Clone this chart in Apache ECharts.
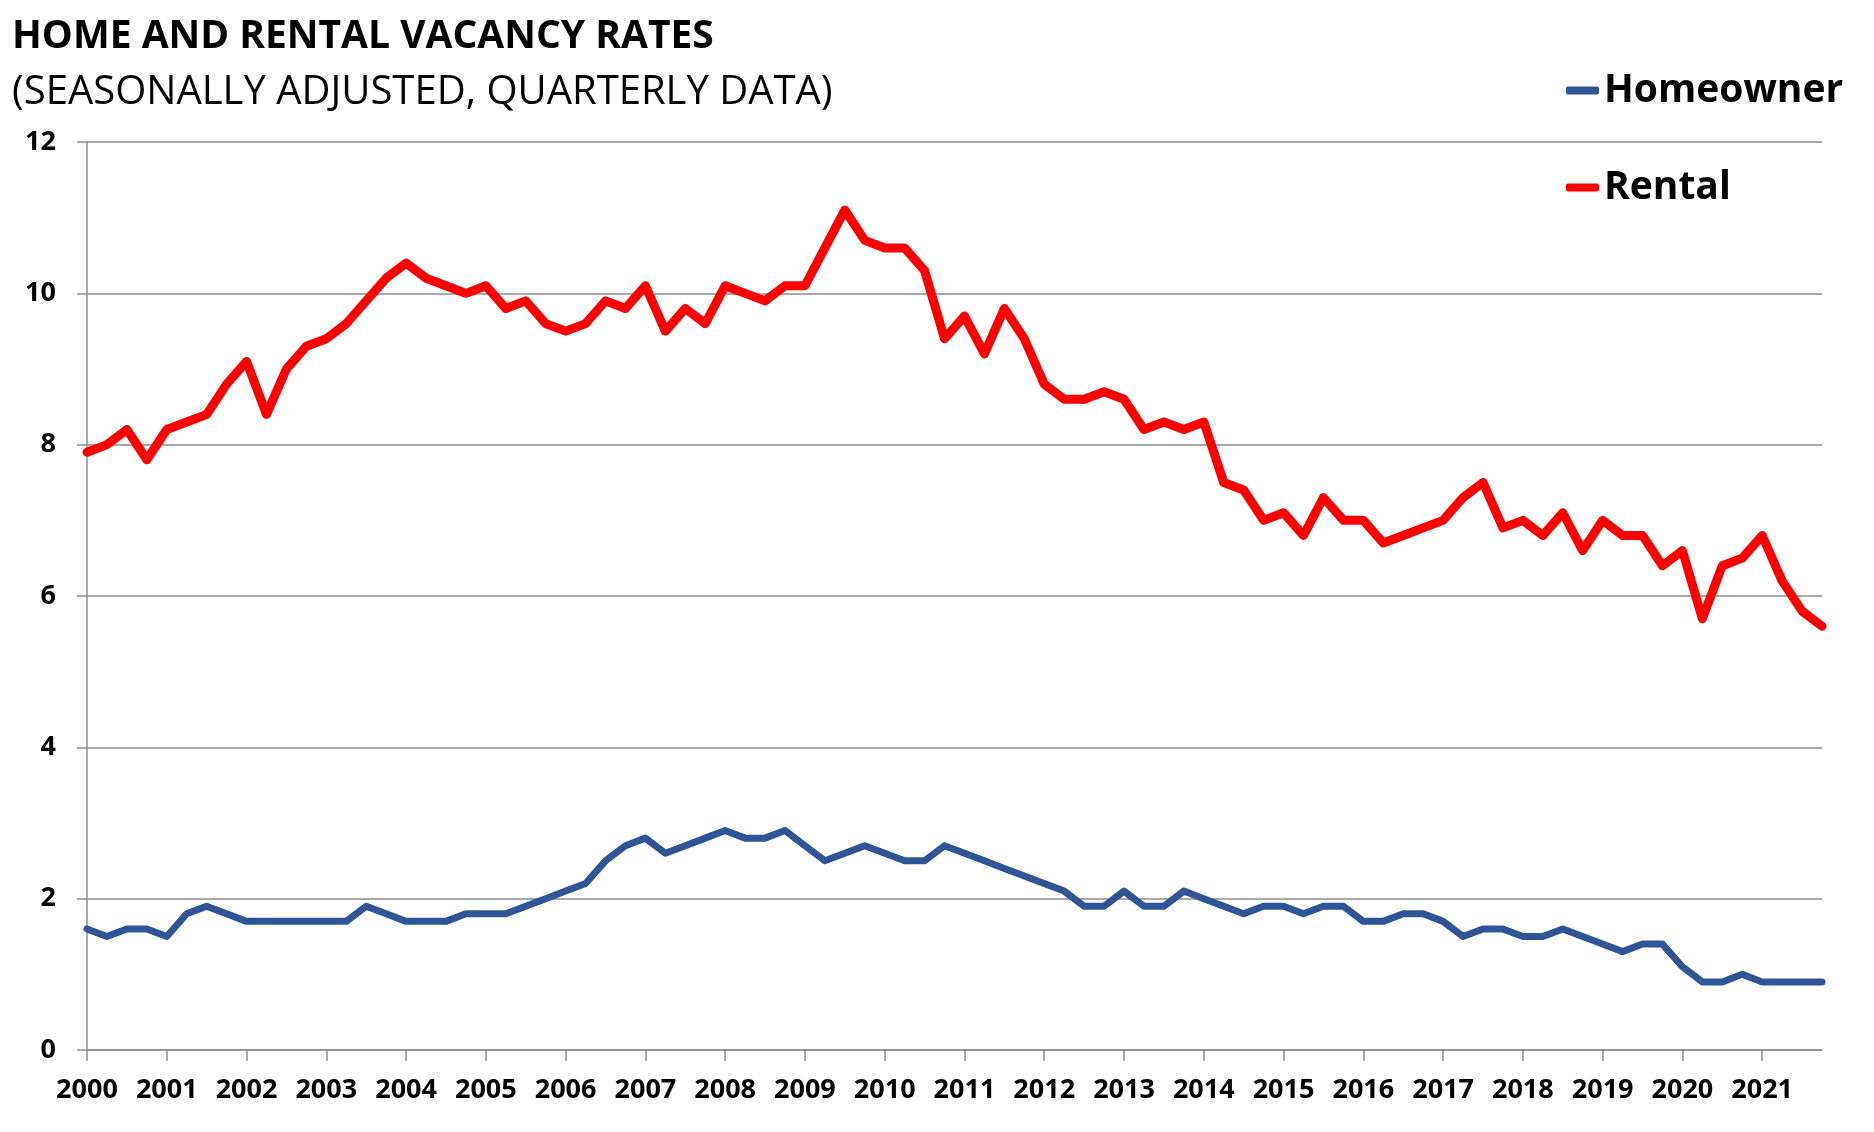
<!DOCTYPE html>
<html>
<head>
<meta charset="utf-8">
<script src="https://cdn.jsdelivr.net/npm/echarts@6/dist/echarts.min.js"></script>
<style>
html,body{margin:0;padding:0;background:#fff;}
#chart{width:1874px;height:1132px;}
</style>
</head>
<body>
<div id="chart"></div>
<script>
const titleText = 'HOME AND RENTAL VACANCY RATES';
const subtitleText = '(SEASONALLY ADJUSTED, QUARTERLY DATA)';
const years = [2000,2001,2002,2003,2004,2005,2006,2007,2008,2009,2010,2011,2012,2013,2014,2015,2016,2017,2018,2019,2020,2021];
const quarterNames = ['Q1','Q2','Q3','Q4'];
const yTicks = [0, 2, 4, 6, 8, 10, 12];

// quarterly values, 2000Q1 .. 2021Q4
const homeowner = [
  1.6,1.5,1.6,1.6, 1.5,1.8,1.9,1.8, 1.7,1.7,1.7,1.7, 1.7,1.7,1.9,1.8,
  1.7,1.7,1.7,1.8, 1.8,1.8,1.9,2.0, 2.1,2.2,2.5,2.7, 2.8,2.6,2.7,2.8,
  2.9,2.8,2.8,2.9, 2.7,2.5,2.6,2.7, 2.6,2.5,2.5,2.7, 2.6,2.5,2.4,2.3,
  2.2,2.1,1.9,1.9, 2.1,1.9,1.9,2.1, 2.0,1.9,1.8,1.9, 1.9,1.8,1.9,1.9,
  1.7,1.7,1.8,1.8, 1.7,1.5,1.6,1.6, 1.5,1.5,1.6,1.5, 1.4,1.3,1.4,1.4,
  1.1,0.9,0.9,1.0, 0.9,0.9,0.9,0.9
];
const rental = [
  7.9,8.0,8.2,7.8, 8.2,8.3,8.4,8.8, 9.1,8.4,9.0,9.3, 9.4,9.6,9.9,10.2,
  10.4,10.2,10.1,10.0, 10.1,9.8,9.9,9.6, 9.5,9.6,9.9,9.8, 10.1,9.5,9.8,9.6,
  10.1,10.0,9.9,10.1, 10.1,10.6,11.1,10.7, 10.6,10.6,10.3,9.4, 9.7,9.2,9.8,9.4,
  8.8,8.6,8.6,8.7, 8.6,8.2,8.3,8.2, 8.3,7.5,7.4,7.0, 7.1,6.8,7.3,7.0,
  7.0,6.7,6.8,6.9, 7.0,7.3,7.5,6.9, 7.0,6.8,7.1,6.6, 7.0,6.8,6.8,6.4,
  6.6,5.7,6.4,6.5, 6.8,6.2,5.8,5.6
];

const categories = years.flatMap(y => quarterNames.map(q => y + ' ' + q));

const FONT = 'Open Sans';
const chart = echarts.init(document.getElementById('chart'), null, {renderer: 'canvas'});
const legendText = {fontFamily: FONT, fontWeight: 'bold', fontSize: 39, color: '#000'};
chart.setOption({
  backgroundColor: '#fff',
  animation: false,
  textStyle: {fontFamily: FONT},
  title: [
    {text: titleText, left: 12, top: 17, padding: 0,
     textStyle: {fontFamily: FONT, fontWeight: 'bold', fontSize: 39, color: '#000'}},
    {text: subtitleText, left: 12, top: 73, padding: 0,
     textStyle: {fontFamily: FONT, fontWeight: 'normal', fontSize: 40, color: '#000'}}
  ],
  legend: [
    {data: ['Homeowner'], orient: 'vertical', left: 1566, top: 71, padding: 0,
     itemWidth: 33, itemHeight: 8, icon: 'roundRect', textStyle: legendText},
    {data: ['Rental'], orient: 'vertical', left: 1566, top: 168, padding: 0,
     itemWidth: 33, itemHeight: 8, icon: 'roundRect', textStyle: legendText}
  ],
  grid: {left: 87, right: 52, top: 142, bottom: 82, containLabel: false},
  xAxis: {
    type: 'category',
    data: categories,
    boundaryGap: false,
    axisLine: {show: true, lineStyle: {color: '#8c8c8c', width: 1.5}},
    axisTick: {show: true, interval: 3, length: 11, lineStyle: {color: '#8c8c8c', width: 1.5}},
    axisLabel: {interval: 3, margin: 27, fontFamily: FONT, fontWeight: 'bold', fontSize: 27, color: '#000',
      formatter: v => v.slice(0, 4)},
    splitLine: {show: false}
  },
  yAxis: {
    type: 'value',
    min: yTicks[0], max: yTicks[yTicks.length - 1], interval: 2,
    axisLine: {show: true, lineStyle: {color: '#8c8c8c', width: 1.5}},
    axisTick: {show: true, length: 10, lineStyle: {color: '#8c8c8c', width: 1.5}},
    axisLabel: {margin: 31, fontFamily: FONT, fontWeight: 'bold', fontSize: 27, color: '#000'},
    splitLine: {show: true, lineStyle: {color: '#8c8c8c', width: 1.5}}
  },
  series: [
    {name: 'Homeowner', type: 'line', data: homeowner, showSymbol: false, symbol: 'none',
     itemStyle: {color: '#2F5597'},
     lineStyle: {color: '#2F5597', width: 7, join: 'round', cap: 'round'}},
    {name: 'Rental', type: 'line', data: rental, showSymbol: false, symbol: 'none',
     itemStyle: {color: '#FF0000'},
     lineStyle: {color: '#FF0000', width: 9, join: 'round', cap: 'round'}}
  ]
});
</script>
</body>
</html>
